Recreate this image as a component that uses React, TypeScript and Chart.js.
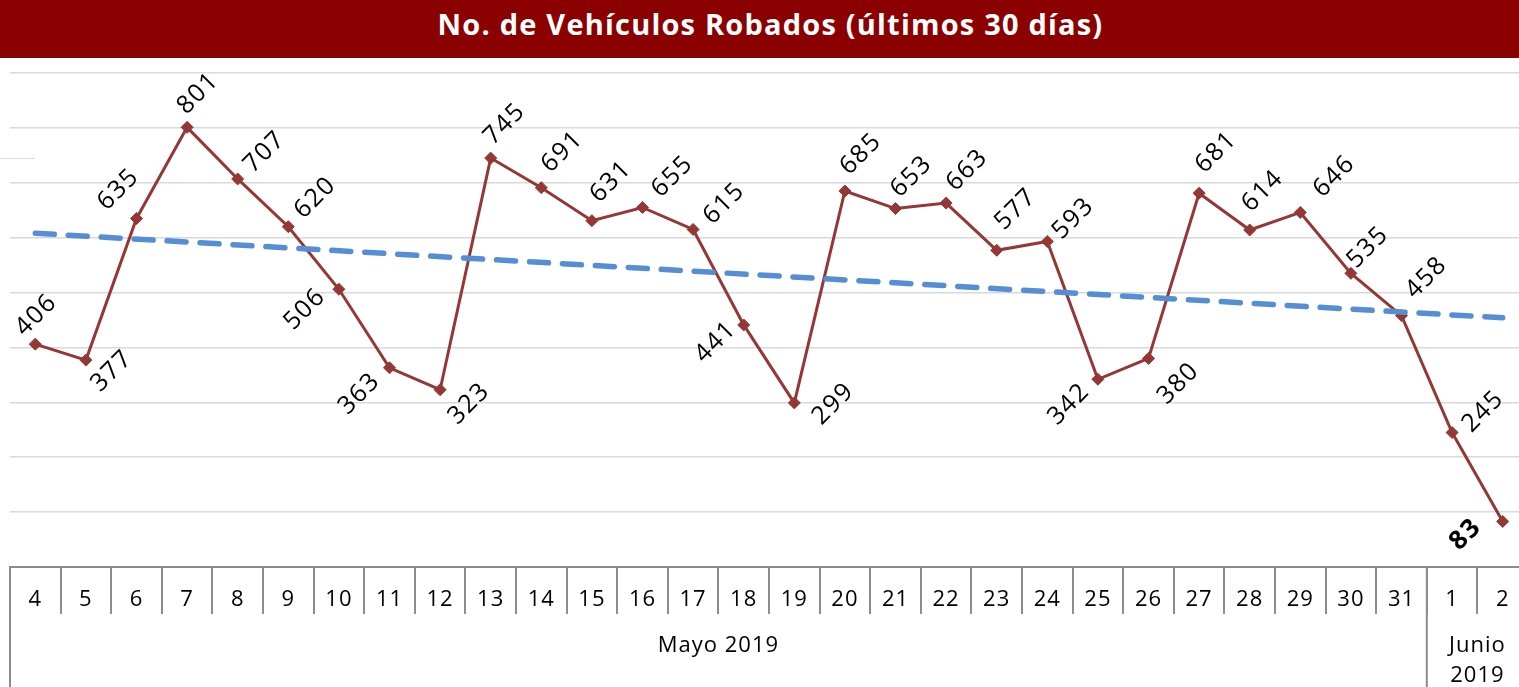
import React, { useEffect, useRef } from "react";
import { Chart, registerables } from "chart.js";

Chart.register(...registerables);

const titleText = "No. de Vehículos Robados (últimos 30 días)";

const categories = [
  "4", "5", "6", "7", "8", "9", "10", "11", "12", "13", "14", "15", "16", "17", "18",
  "19", "20", "21", "22", "23", "24", "25", "26", "27", "28", "29", "30", "31", "1", "2",
];

const robados = [
  406, 377, 635, 801, 707, 620, 506, 363, 323, 745, 691, 631, 655, 615, 441,
  299, 685, 653, 663, 577, 593, 342, 380, 681, 614, 646, 535, 458, 245, 83,
];

// linear trend line: values read at first and last day
const trendStartEnd = [608, 454];

const groupLabels = [["Mayo 2019"], ["Junio", "2019"]];
const groupStartIndex = [0, 28];

const yTicks = [0, 100, 200, 300, 400, 500, 600, 700, 800, 900];

// label placement offsets (dx, dy) relative to each point, in px
const labelOffsets = [
  [1, -29], [26, 11], [-18, -29], [11, -34], [27, -27], [27, -29], [-34, 20], [-30, 26], [29, 14], [14, -34],
  [21, -36], [19, -39], [30, -31], [31, -26], [-28, 17], [39, 1], [16, -37], [16, -32], [21, -33], [19, -41],
  [26, -23], [-29, 25], [30, 25], [17, -41], [13, -39], [34, -36], [17, -26], [25, -38], [31, -21], [-37, 13],
];

const FONT = "'Open Sans', sans-serif";

const trendData = categories.map((_, i) =>
  i === 0 ? trendStartEnd[0] : i === categories.length - 1 ? trendStartEnd[1] : null
);

const spacingPlugin = {
  id: "spacing",
  beforeDraw(chart: any) {
    chart.ctx.letterSpacing = "1px";
  },
};

const labelPlugin = {
  id: "rotLabels",
  afterDatasetsDraw(chart: any) {
    const meta = chart.getDatasetMeta(1);
    const ctx = chart.ctx;
    ctx.save();
    meta.data.forEach((pt: any, i: number) => {
      const [dx, dy] = labelOffsets[i];
      const last = i === robados.length - 1;
      ctx.save();
      ctx.translate(pt.x + dx, pt.y + dy);
      ctx.rotate(-Math.PI / 4);
      ctx.letterSpacing = "1.5px";
      ctx.font = `${last ? "bold 26px" : "25px"} ${FONT}`;
      ctx.fillStyle = "#000";
      ctx.textAlign = "center";
      ctx.textBaseline = "middle";
      ctx.fillText(String(robados[i]), 0, 0);
      ctx.restore();
    });
    ctx.restore();
  },
};

const groupPlugin = {
  id: "groupAxis",
  afterDraw(chart: any) {
    const x = chart.scales.x;
    const ctx = chart.ctx;
    const top = chart.chartArea.bottom;
    const bottom = chart.height;
    const half = (x.getPixelForValue(1) - x.getPixelForValue(0)) / 2;
    ctx.save();
    ctx.strokeStyle = "#8c8c8c";
    ctx.lineWidth = 2;
    groupStartIndex.forEach((start, g) => {
      const end = g + 1 < groupStartIndex.length ? groupStartIndex[g + 1] - 1 : categories.length - 1;
      const left = x.getPixelForValue(start) - half;
      const right = x.getPixelForValue(end) + half;
      ctx.beginPath();
      ctx.moveTo(left, top);
      ctx.lineTo(left, bottom);
      ctx.stroke();
      ctx.fillStyle = "#000";
      ctx.letterSpacing = "1px";
      ctx.font = `22px ${FONT}`;
      ctx.textAlign = "center";
      ctx.textBaseline = "middle";
      const lines = groupLabels[g];
      lines.forEach((ln, k) => {
        ctx.fillText(ln, (left + right) / 2, top + 79 + k * 30);
      });
    });
    ctx.restore();
  },
};

export default function App() {
  const ref = useRef<HTMLCanvasElement>(null);
  useEffect(() => {
    if (!ref.current) return;
    const chart = new Chart(ref.current, {
      type: "line",
      data: {
        labels: categories,
        datasets: [
          {
            label: "Tendencia",
            data: trendData,
            spanGaps: true,
            borderColor: "#558ed5",
            borderWidth: 5.5,
            borderDash: [19, 14],
            borderCapStyle: "round",
            pointRadius: 0,
            fill: false,
            tension: 0,
          },
          {
            label: "Robados",
            data: robados,
            borderColor: "#953735",
            backgroundColor: "#953735",
            borderWidth: 3,
            pointStyle: "rectRot",
            pointRadius: 6,
            pointBackgroundColor: "#953735",
            pointBorderColor: "#953735",
            pointBorderWidth: 1,
            fill: false,
            tension: 0,
          },
        ],
      },
      plugins: [spacingPlugin, labelPlugin, groupPlugin],
      options: {
        animation: false,
        responsive: false,
        maintainAspectRatio: false,
        layout: { padding: { left: 10, right: 0, top: 15, bottom: 0 } },
        plugins: {
          legend: { display: false },
          tooltip: { enabled: false },
          title: { display: false },
        },
        scales: {
          x: {
            type: "category",
            offset: true,
            grid: {
              offset: true,
              drawOnChartArea: false,
              drawTicks: true,
              tickLength: 47,
              color: "#8c8c8c",
              lineWidth: 2,
            },
            border: { display: true, color: "#8c8c8c", width: 2 },
            ticks: {
              color: "#000",
              font: { family: FONT, size: 22 },
              padding: -27,
              maxRotation: 0,
              autoSkip: false,
            },
            afterFit: (scale: any) => {
              scale.height = 120;
            },
          },
          y: {
            min: 0,
            max: 900,
            afterBuildTicks: (scale: any) => {
              scale.ticks = yTicks.map((v) => ({ value: v }));
            },
            ticks: { display: false },
            grid: { color: "#d9d9d9", lineWidth: 1.5, drawTicks: false },
            border: { display: false },
          },
        },
      },
    });
    return () => chart.destroy();
  }, []);

  return (
    <div
      style={{
        position: "absolute",
        left: 0,
        top: 0,
        width: 1519,
        height: 687,
        overflow: "hidden",
        background: "#fff",
      }}
    >
      <div
        style={{
          height: 58,
          background: "#8b0000",
          color: "#fff",
          fontFamily: FONT,
          fontWeight: 700,
          fontSize: 29,
          letterSpacing: "1.2px",
          display: "flex",
          alignItems: "center",
          justifyContent: "center",
          paddingBottom: 11,
          paddingLeft: 22,
          boxSizing: "border-box",
        }}
      >
        {titleText}
      </div>
      <div style={{ position: "absolute", left: 0, top: 158, width: 35, height: 1, background: "#dcdcdc" }} />
      <canvas ref={ref} width={1535} height={629} style={{ display: "block" }} />
    </div>
  );
}
